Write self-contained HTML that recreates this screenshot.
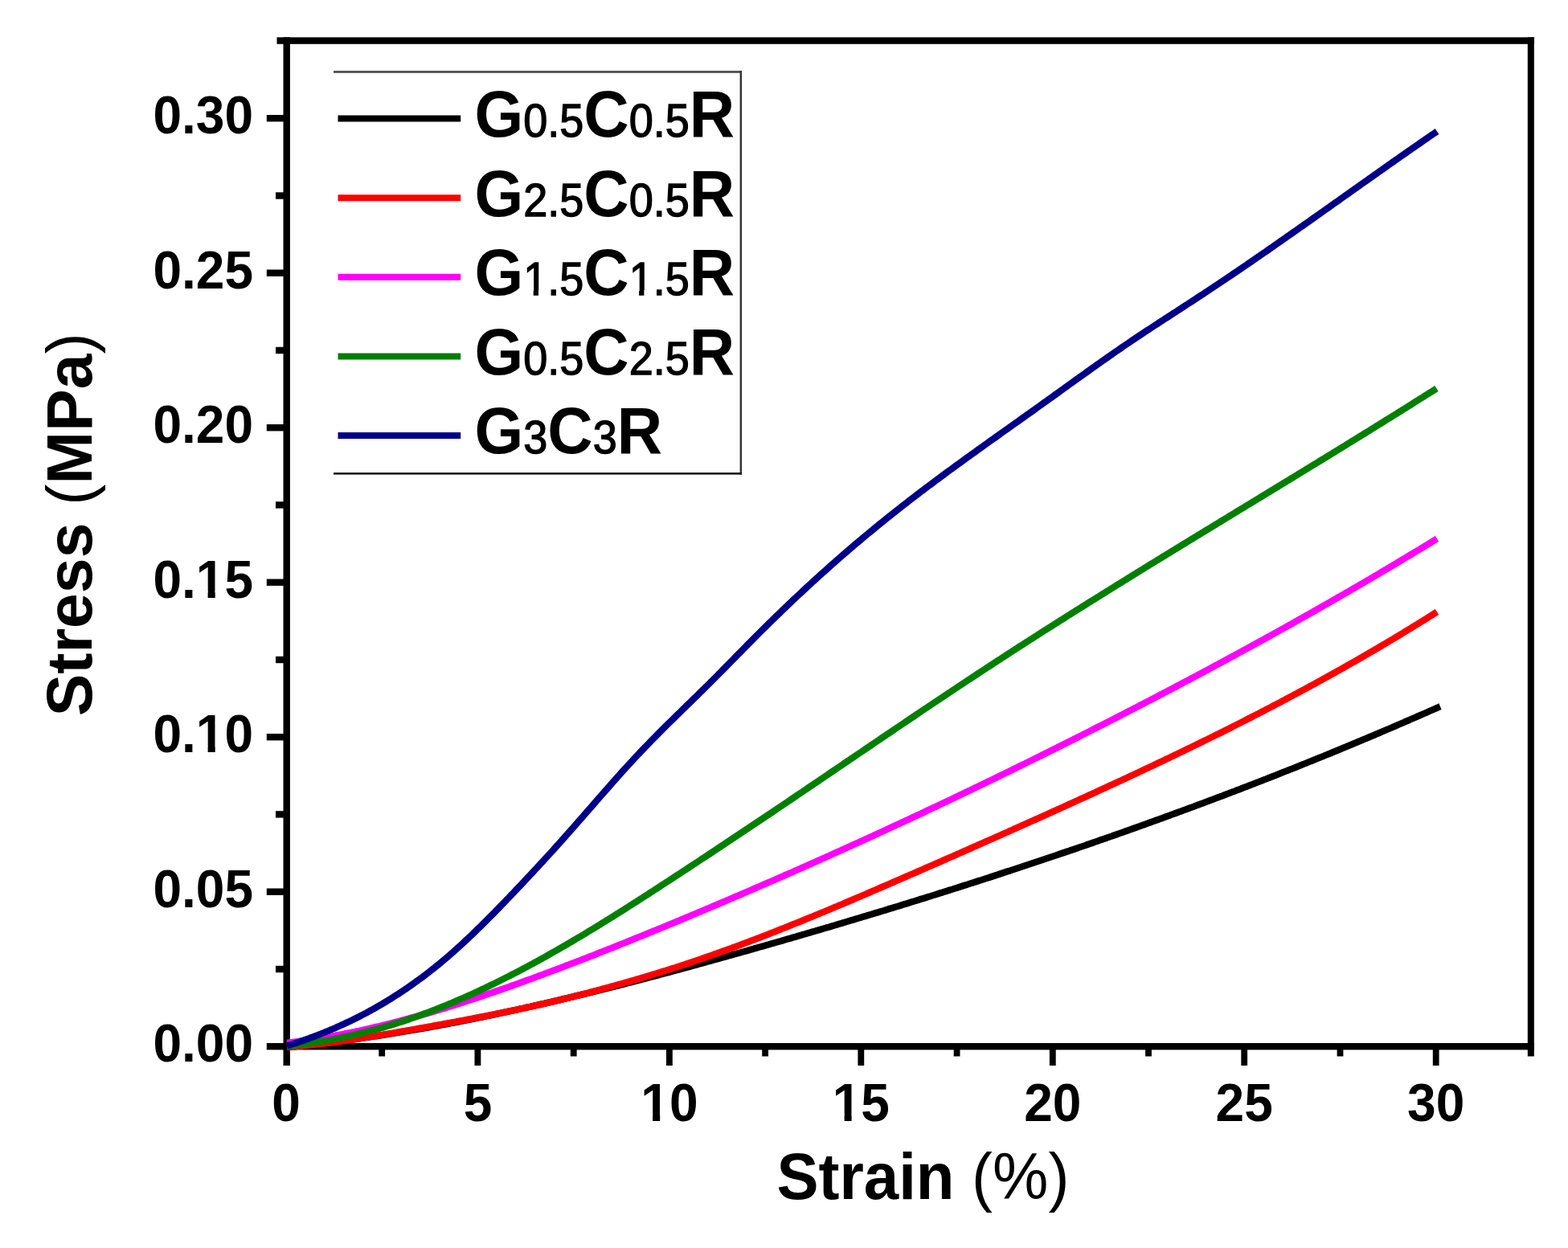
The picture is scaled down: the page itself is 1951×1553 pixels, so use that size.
<!DOCTYPE html>
<html><head><meta charset="utf-8"><title>Stress-Strain</title>
<style>html,body{margin:0;padding:0;background:#fff}body{width:1951px;height:1553px;overflow:hidden}svg{display:block}text{font-family:"Liberation Sans",Arial,sans-serif}</style></head>
<body>
<svg width="1951" height="1553" viewBox="0 0 1951 1553">
<rect x="0" y="0" width="1951" height="1553" fill="#fff"/>
<g fill="#000">
<rect x="344.5" y="46.4" width="1564.5" height="8.4"/>
<rect x="352.5" y="46.4" width="8.4" height="1279.6"/>
<rect x="1900.8" y="46.4" width="8.0" height="1268.1"/>
<rect x="352.5" y="1298.0" width="1556.5" height="8.4"/>
<rect x="331.8" y="1298.0" width="24.9" height="8.4"/>
<rect x="331.8" y="1105.5" width="24.9" height="8.4"/>
<rect x="331.8" y="913.0" width="24.9" height="8.4"/>
<rect x="331.8" y="720.5" width="24.9" height="8.4"/>
<rect x="331.8" y="528.0" width="24.9" height="8.4"/>
<rect x="331.8" y="335.5" width="24.9" height="8.4"/>
<rect x="331.8" y="143.0" width="24.9" height="8.4"/>
<rect x="343.0" y="1201.8" width="13.7" height="8.4"/>
<rect x="343.0" y="1009.2" width="13.7" height="8.4"/>
<rect x="343.0" y="816.8" width="13.7" height="8.4"/>
<rect x="343.0" y="624.2" width="13.7" height="8.4"/>
<rect x="343.0" y="431.8" width="13.7" height="8.4"/>
<rect x="343.0" y="239.3" width="13.7" height="8.4"/>
<rect x="590.5" y="1302.2" width="7.8" height="23.8"/>
<rect x="829.0" y="1302.2" width="7.8" height="23.8"/>
<rect x="1067.4" y="1302.2" width="7.8" height="23.8"/>
<rect x="1305.9" y="1302.2" width="7.8" height="23.8"/>
<rect x="1544.3" y="1302.2" width="7.8" height="23.8"/>
<rect x="1782.8" y="1302.2" width="7.8" height="23.8"/>
<rect x="471.3" y="1302.2" width="7.8" height="12.3"/>
<rect x="709.8" y="1302.2" width="7.8" height="12.3"/>
<rect x="948.2" y="1302.2" width="7.8" height="12.3"/>
<rect x="1186.7" y="1302.2" width="7.8" height="12.3"/>
<rect x="1425.1" y="1302.2" width="7.8" height="12.3"/>
<rect x="1663.6" y="1302.2" width="7.8" height="12.3"/>
</g>
<g fill="none" stroke-width="8.3" stroke-linejoin="round" stroke-linecap="butt">
<path stroke="#000000" d="M357.0 1303.2 L360.0 1302.9 L363.0 1302.6 L366.0 1302.3 L369.0 1301.9 L372.0 1301.6 L375.0 1301.3 L378.0 1301.0 L381.0 1300.7 L384.0 1300.3 L387.0 1300.0 L390.0 1299.7 L393.0 1299.3 L396.0 1299.0 L399.0 1298.6 L402.0 1298.2 L405.0 1297.9 L408.0 1297.5 L411.0 1297.1 L414.0 1296.8 L417.0 1296.4 L420.0 1296.0 L423.0 1295.6 L426.0 1295.2 L429.0 1294.8 L432.0 1294.4 L435.0 1294.0 L438.0 1293.6 L441.0 1293.2 L444.0 1292.8 L447.0 1292.3 L450.0 1291.9 L453.0 1291.5 L456.0 1291.0 L459.0 1290.6 L462.0 1290.2 L465.0 1289.7 L468.0 1289.3 L471.0 1288.8 L474.0 1288.3 L477.0 1287.9 L480.0 1287.4 L483.0 1286.9 L486.0 1286.4 L489.0 1286.0 L492.0 1285.5 L495.0 1285.0 L498.0 1284.5 L501.0 1284.0 L504.0 1283.5 L507.0 1283.0 L510.0 1282.5 L513.0 1282.0 L516.0 1281.5 L519.0 1280.9 L522.0 1280.4 L525.0 1279.9 L528.0 1279.4 L531.0 1278.8 L534.0 1278.3 L537.0 1277.7 L540.0 1277.2 L543.0 1276.7 L546.0 1276.1 L549.0 1275.5 L552.0 1275.0 L555.0 1274.4 L558.0 1273.9 L561.0 1273.3 L564.0 1272.7 L567.0 1272.1 L570.0 1271.6 L573.0 1271.0 L576.0 1270.4 L579.0 1269.8 L582.0 1269.2 L585.0 1268.6 L588.0 1268.0 L591.0 1267.4 L594.0 1266.8 L597.0 1266.2 L600.0 1265.6 L603.0 1265.0 L606.0 1264.3 L609.0 1263.7 L612.0 1263.1 L615.0 1262.5 L618.0 1261.8 L621.0 1261.2 L624.0 1260.5 L627.0 1259.9 L630.0 1259.3 L633.0 1258.6 L636.0 1258.0 L639.0 1257.3 L642.0 1256.7 L645.0 1256.0 L648.0 1255.3 L651.0 1254.7 L654.0 1254.0 L657.0 1253.3 L660.0 1252.7 L663.0 1252.0 L666.0 1251.3 L669.0 1250.6 L672.0 1249.9 L675.0 1249.2 L678.0 1248.6 L681.0 1247.9 L684.0 1247.2 L687.0 1246.5 L690.0 1245.8 L693.0 1245.1 L696.0 1244.4 L699.0 1243.6 L702.0 1242.9 L705.0 1242.2 L708.0 1241.5 L711.0 1240.8 L714.0 1240.1 L717.0 1239.3 L720.0 1238.6 L723.0 1237.9 L726.0 1237.2 L729.0 1236.4 L732.0 1235.7 L735.0 1234.9 L738.0 1234.2 L741.0 1233.5 L744.0 1232.7 L747.0 1232.0 L750.0 1231.2 L753.0 1230.5 L756.0 1229.7 L759.0 1229.0 L762.0 1228.2 L765.0 1227.4 L768.0 1226.7 L771.0 1225.9 L774.0 1225.1 L777.0 1224.4 L780.0 1223.6 L783.0 1222.8 L786.0 1222.1 L789.0 1221.3 L792.0 1220.5 L795.0 1219.7 L798.0 1218.9 L801.0 1218.1 L804.0 1217.4 L807.0 1216.6 L810.0 1215.8 L813.0 1215.0 L816.0 1214.2 L819.0 1213.4 L822.0 1212.6 L825.0 1211.8 L828.0 1211.0 L831.0 1210.2 L834.0 1209.4 L837.0 1208.6 L840.0 1207.8 L843.0 1207.0 L846.0 1206.2 L849.0 1205.3 L852.0 1204.5 L855.0 1203.7 L858.0 1202.9 L861.0 1202.1 L864.0 1201.3 L867.0 1200.4 L870.0 1199.6 L873.0 1198.8 L876.0 1198.0 L879.0 1197.1 L882.0 1196.3 L885.0 1195.5 L888.0 1194.6 L891.0 1193.8 L894.0 1193.0 L897.0 1192.1 L900.0 1191.3 L903.0 1190.5 L906.0 1189.6 L909.0 1188.8 L912.0 1187.9 L915.0 1187.1 L918.0 1186.2 L921.0 1185.4 L924.0 1184.6 L927.0 1183.7 L930.0 1182.9 L933.0 1182.0 L936.0 1181.2 L939.0 1180.3 L942.0 1179.4 L945.0 1178.6 L948.0 1177.7 L951.0 1176.9 L954.0 1176.0 L957.0 1175.2 L960.0 1174.3 L963.0 1173.4 L966.0 1172.6 L969.0 1171.7 L972.0 1170.9 L975.0 1170.0 L978.0 1169.1 L981.0 1168.3 L984.0 1167.4 L987.0 1166.5 L990.0 1165.7 L993.0 1164.8 L996.0 1163.9 L999.0 1163.0 L1002.0 1162.2 L1005.0 1161.3 L1008.0 1160.4 L1011.0 1159.5 L1014.0 1158.7 L1017.0 1157.8 L1020.0 1156.9 L1023.0 1156.0 L1026.0 1155.1 L1029.0 1154.2 L1032.0 1153.4 L1035.0 1152.5 L1038.0 1151.6 L1041.0 1150.7 L1044.0 1149.8 L1047.0 1148.9 L1050.0 1148.0 L1053.0 1147.1 L1056.0 1146.2 L1059.0 1145.3 L1062.0 1144.4 L1065.0 1143.5 L1068.0 1142.6 L1071.0 1141.7 L1074.0 1140.8 L1077.0 1139.9 L1080.0 1139.0 L1083.0 1138.1 L1086.0 1137.2 L1089.0 1136.3 L1092.0 1135.4 L1095.0 1134.5 L1098.0 1133.6 L1101.0 1132.7 L1104.0 1131.8 L1107.0 1130.8 L1110.0 1129.9 L1113.0 1129.0 L1116.0 1128.1 L1119.0 1127.2 L1122.0 1126.2 L1125.0 1125.3 L1128.0 1124.4 L1131.0 1123.5 L1134.0 1122.5 L1137.0 1121.6 L1140.0 1120.7 L1143.0 1119.8 L1146.0 1118.8 L1149.0 1117.9 L1152.0 1117.0 L1155.0 1116.0 L1158.0 1115.1 L1161.0 1114.1 L1164.0 1113.2 L1167.0 1112.3 L1170.0 1111.3 L1173.0 1110.4 L1176.0 1109.4 L1179.0 1108.5 L1182.0 1107.5 L1185.0 1106.6 L1188.0 1105.6 L1191.0 1104.7 L1194.0 1103.7 L1197.0 1102.8 L1200.0 1101.8 L1203.0 1100.9 L1206.0 1099.9 L1209.0 1098.9 L1212.0 1098.0 L1215.0 1097.0 L1218.0 1096.0 L1221.0 1095.1 L1224.0 1094.1 L1227.0 1093.1 L1230.0 1092.2 L1233.0 1091.2 L1236.0 1090.2 L1239.0 1089.2 L1242.0 1088.3 L1245.0 1087.3 L1248.0 1086.3 L1251.0 1085.3 L1254.0 1084.3 L1257.0 1083.4 L1260.0 1082.4 L1263.0 1081.4 L1266.0 1080.4 L1269.0 1079.4 L1272.0 1078.4 L1275.0 1077.4 L1278.0 1076.4 L1281.0 1075.4 L1284.0 1074.4 L1287.0 1073.4 L1290.0 1072.4 L1293.0 1071.4 L1296.0 1070.4 L1299.0 1069.4 L1302.0 1068.4 L1305.0 1067.4 L1308.0 1066.4 L1311.0 1065.4 L1314.0 1064.4 L1317.0 1063.3 L1320.0 1062.3 L1323.0 1061.3 L1326.0 1060.3 L1329.0 1059.3 L1332.0 1058.2 L1335.0 1057.2 L1338.0 1056.2 L1341.0 1055.2 L1344.0 1054.1 L1347.0 1053.1 L1350.0 1052.1 L1353.0 1051.0 L1356.0 1050.0 L1359.0 1049.0 L1362.0 1047.9 L1365.0 1046.9 L1368.0 1045.8 L1371.0 1044.8 L1374.0 1043.7 L1377.0 1042.7 L1380.0 1041.6 L1383.0 1040.6 L1386.0 1039.5 L1389.0 1038.5 L1392.0 1037.4 L1395.0 1036.4 L1398.0 1035.3 L1401.0 1034.2 L1404.0 1033.2 L1407.0 1032.1 L1410.0 1031.0 L1413.0 1030.0 L1416.0 1028.9 L1419.0 1027.8 L1422.0 1026.7 L1425.0 1025.7 L1428.0 1024.6 L1431.0 1023.5 L1434.0 1022.4 L1437.0 1021.3 L1440.0 1020.3 L1443.0 1019.2 L1446.0 1018.1 L1449.0 1017.0 L1452.0 1015.9 L1455.0 1014.8 L1458.0 1013.7 L1461.0 1012.6 L1464.0 1011.5 L1467.0 1010.4 L1470.0 1009.3 L1473.0 1008.2 L1476.0 1007.1 L1479.0 1006.0 L1482.0 1004.9 L1485.0 1003.8 L1488.0 1002.6 L1491.0 1001.5 L1494.0 1000.4 L1497.0 999.3 L1500.0 998.2 L1503.0 997.0 L1506.0 995.9 L1509.0 994.8 L1512.0 993.7 L1515.0 992.5 L1518.0 991.4 L1521.0 990.3 L1524.0 989.1 L1527.0 988.0 L1530.0 986.8 L1533.0 985.7 L1536.0 984.6 L1539.0 983.4 L1542.0 982.3 L1545.0 981.1 L1548.0 979.9 L1551.0 978.8 L1554.0 977.6 L1557.0 976.5 L1560.0 975.3 L1563.0 974.2 L1566.0 973.0 L1569.0 971.8 L1572.0 970.7 L1575.0 969.5 L1578.0 968.3 L1581.0 967.1 L1584.0 966.0 L1587.0 964.8 L1590.0 963.6 L1593.0 962.4 L1596.0 961.2 L1599.0 960.0 L1602.0 958.8 L1605.0 957.7 L1608.0 956.5 L1611.0 955.3 L1614.0 954.1 L1617.0 952.9 L1620.0 951.7 L1623.0 950.5 L1626.0 949.3 L1629.0 948.0 L1632.0 946.8 L1635.0 945.6 L1638.0 944.4 L1641.0 943.2 L1644.0 942.0 L1647.0 940.8 L1650.0 939.5 L1653.0 938.3 L1656.0 937.1 L1659.0 935.8 L1662.0 934.6 L1665.0 933.4 L1668.0 932.1 L1671.0 930.9 L1674.0 929.7 L1677.0 928.4 L1680.0 927.2 L1683.0 925.9 L1686.0 924.7 L1689.0 923.4 L1692.0 922.2 L1695.0 920.9 L1698.0 919.7 L1701.0 918.4 L1704.0 917.1 L1707.0 915.9 L1710.0 914.6 L1713.0 913.3 L1716.0 912.1 L1719.0 910.8 L1722.0 909.5 L1725.0 908.2 L1728.0 907.0 L1731.0 905.7 L1734.0 904.4 L1737.0 903.1 L1740.0 901.8 L1743.0 900.5 L1746.0 899.2 L1749.0 897.9 L1752.0 896.6 L1755.0 895.3 L1758.0 894.0 L1761.0 892.7 L1764.0 891.4 L1767.0 890.1 L1770.0 888.8 L1773.0 887.5 L1776.0 886.2 L1779.0 884.8 L1782.0 883.5 L1785.0 882.2 L1788.0 880.9 L1791.0 879.5 L1792.0 879.1"/>
<path stroke="#ff0000" d="M357.0 1302.8 L360.0 1302.6 L363.0 1302.4 L366.0 1302.2 L369.0 1302.0 L372.0 1301.7 L375.0 1301.5 L378.0 1301.2 L381.0 1300.9 L384.0 1300.7 L387.0 1300.4 L390.0 1300.0 L393.0 1299.7 L396.0 1299.4 L399.0 1299.0 L402.0 1298.7 L405.0 1298.3 L408.0 1297.9 L411.0 1297.6 L414.0 1297.2 L417.0 1296.8 L420.0 1296.4 L423.0 1296.0 L426.0 1295.5 L429.0 1295.1 L432.0 1294.7 L435.0 1294.2 L438.0 1293.8 L441.0 1293.3 L444.0 1292.9 L447.0 1292.4 L450.0 1291.9 L453.0 1291.4 L456.0 1291.0 L459.0 1290.5 L462.0 1290.0 L465.0 1289.5 L468.0 1289.0 L471.0 1288.5 L474.0 1288.0 L477.0 1287.5 L480.0 1287.0 L483.0 1286.5 L486.0 1286.0 L489.0 1285.5 L492.0 1285.0 L495.0 1284.4 L498.0 1283.9 L501.0 1283.4 L504.0 1282.9 L507.0 1282.3 L510.0 1281.8 L513.0 1281.3 L516.0 1280.8 L519.0 1280.2 L522.0 1279.7 L525.0 1279.2 L528.0 1278.6 L531.0 1278.1 L534.0 1277.5 L537.0 1277.0 L540.0 1276.4 L543.0 1275.9 L546.0 1275.3 L549.0 1274.8 L552.0 1274.2 L555.0 1273.7 L558.0 1273.1 L561.0 1272.6 L564.0 1272.0 L567.0 1271.5 L570.0 1270.9 L573.0 1270.3 L576.0 1269.8 L579.0 1269.2 L582.0 1268.6 L585.0 1268.1 L588.0 1267.5 L591.0 1266.9 L594.0 1266.3 L597.0 1265.7 L600.0 1265.2 L603.0 1264.6 L606.0 1264.0 L609.0 1263.4 L612.0 1262.8 L615.0 1262.2 L618.0 1261.6 L621.0 1261.0 L624.0 1260.4 L627.0 1259.8 L630.0 1259.1 L633.0 1258.5 L636.0 1257.9 L639.0 1257.3 L642.0 1256.6 L645.0 1256.0 L648.0 1255.4 L651.0 1254.7 L654.0 1254.1 L657.0 1253.4 L660.0 1252.8 L663.0 1252.1 L666.0 1251.4 L669.0 1250.8 L672.0 1250.1 L675.0 1249.4 L678.0 1248.7 L681.0 1248.0 L684.0 1247.3 L687.0 1246.6 L690.0 1245.9 L693.0 1245.2 L696.0 1244.5 L699.0 1243.7 L702.0 1243.0 L705.0 1242.3 L708.0 1241.5 L711.0 1240.8 L714.0 1240.0 L717.0 1239.3 L720.0 1238.5 L723.0 1237.7 L726.0 1237.0 L729.0 1236.2 L732.0 1235.4 L735.0 1234.6 L738.0 1233.8 L741.0 1233.0 L744.0 1232.2 L747.0 1231.4 L750.0 1230.6 L753.0 1229.8 L756.0 1229.0 L759.0 1228.1 L762.0 1227.3 L765.0 1226.5 L768.0 1225.6 L771.0 1224.8 L774.0 1224.0 L777.0 1223.1 L780.0 1222.3 L783.0 1221.4 L786.0 1220.5 L789.0 1219.7 L792.0 1218.8 L795.0 1217.9 L798.0 1217.0 L801.0 1216.1 L804.0 1215.2 L807.0 1214.3 L810.0 1213.4 L813.0 1212.5 L816.0 1211.6 L819.0 1210.7 L822.0 1209.8 L825.0 1208.8 L828.0 1207.9 L831.0 1206.9 L834.0 1206.0 L837.0 1205.0 L840.0 1204.1 L843.0 1203.1 L846.0 1202.1 L849.0 1201.1 L852.0 1200.2 L855.0 1199.2 L858.0 1198.2 L861.0 1197.2 L864.0 1196.1 L867.0 1195.1 L870.0 1194.1 L873.0 1193.1 L876.0 1192.0 L879.0 1191.0 L882.0 1189.9 L885.0 1188.9 L888.0 1187.8 L891.0 1186.8 L894.0 1185.7 L897.0 1184.6 L900.0 1183.5 L903.0 1182.5 L906.0 1181.4 L909.0 1180.3 L912.0 1179.2 L915.0 1178.1 L918.0 1177.0 L921.0 1175.8 L924.0 1174.7 L927.0 1173.6 L930.0 1172.5 L933.0 1171.3 L936.0 1170.2 L939.0 1169.1 L942.0 1167.9 L945.0 1166.8 L948.0 1165.6 L951.0 1164.5 L954.0 1163.3 L957.0 1162.1 L960.0 1160.9 L963.0 1159.8 L966.0 1158.6 L969.0 1157.4 L972.0 1156.2 L975.0 1155.0 L978.0 1153.8 L981.0 1152.6 L984.0 1151.4 L987.0 1150.2 L990.0 1149.0 L993.0 1147.8 L996.0 1146.6 L999.0 1145.4 L1002.0 1144.1 L1005.0 1142.9 L1008.0 1141.7 L1011.0 1140.5 L1014.0 1139.2 L1017.0 1138.0 L1020.0 1136.7 L1023.0 1135.5 L1026.0 1134.3 L1029.0 1133.0 L1032.0 1131.8 L1035.0 1130.5 L1038.0 1129.2 L1041.0 1128.0 L1044.0 1126.7 L1047.0 1125.5 L1050.0 1124.2 L1053.0 1122.9 L1056.0 1121.6 L1059.0 1120.4 L1062.0 1119.1 L1065.0 1117.8 L1068.0 1116.5 L1071.0 1115.3 L1074.0 1114.0 L1077.0 1112.7 L1080.0 1111.4 L1083.0 1110.1 L1086.0 1108.8 L1089.0 1107.5 L1092.0 1106.2 L1095.0 1104.9 L1098.0 1103.6 L1101.0 1102.3 L1104.0 1101.1 L1107.0 1099.8 L1110.0 1098.4 L1113.0 1097.1 L1116.0 1095.8 L1119.0 1094.5 L1122.0 1093.2 L1125.0 1091.9 L1128.0 1090.6 L1131.0 1089.3 L1134.0 1088.0 L1137.0 1086.7 L1140.0 1085.4 L1143.0 1084.1 L1146.0 1082.8 L1149.0 1081.5 L1152.0 1080.1 L1155.0 1078.8 L1158.0 1077.5 L1161.0 1076.2 L1164.0 1074.9 L1167.0 1073.6 L1170.0 1072.3 L1173.0 1070.9 L1176.0 1069.6 L1179.0 1068.3 L1182.0 1067.0 L1185.0 1065.7 L1188.0 1064.4 L1191.0 1063.0 L1194.0 1061.7 L1197.0 1060.4 L1200.0 1059.1 L1203.0 1057.8 L1206.0 1056.4 L1209.0 1055.1 L1212.0 1053.8 L1215.0 1052.5 L1218.0 1051.1 L1221.0 1049.8 L1224.0 1048.5 L1227.0 1047.1 L1230.0 1045.8 L1233.0 1044.5 L1236.0 1043.2 L1239.0 1041.8 L1242.0 1040.5 L1245.0 1039.2 L1248.0 1037.8 L1251.0 1036.5 L1254.0 1035.2 L1257.0 1033.8 L1260.0 1032.5 L1263.0 1031.1 L1266.0 1029.8 L1269.0 1028.5 L1272.0 1027.1 L1275.0 1025.8 L1278.0 1024.4 L1281.0 1023.1 L1284.0 1021.7 L1287.0 1020.4 L1290.0 1019.1 L1293.0 1017.7 L1296.0 1016.4 L1299.0 1015.0 L1302.0 1013.7 L1305.0 1012.3 L1308.0 1010.9 L1311.0 1009.6 L1314.0 1008.2 L1317.0 1006.9 L1320.0 1005.5 L1323.0 1004.2 L1326.0 1002.8 L1329.0 1001.4 L1332.0 1000.1 L1335.0 998.7 L1338.0 997.3 L1341.0 996.0 L1344.0 994.6 L1347.0 993.2 L1350.0 991.9 L1353.0 990.5 L1356.0 989.1 L1359.0 987.8 L1362.0 986.4 L1365.0 985.0 L1368.0 983.6 L1371.0 982.2 L1374.0 980.9 L1377.0 979.5 L1380.0 978.1 L1383.0 976.7 L1386.0 975.3 L1389.0 973.9 L1392.0 972.5 L1395.0 971.2 L1398.0 969.8 L1401.0 968.4 L1404.0 967.0 L1407.0 965.6 L1410.0 964.2 L1413.0 962.8 L1416.0 961.4 L1419.0 959.9 L1422.0 958.5 L1425.0 957.1 L1428.0 955.7 L1431.0 954.3 L1434.0 952.9 L1437.0 951.5 L1440.0 950.0 L1443.0 948.6 L1446.0 947.2 L1449.0 945.8 L1452.0 944.3 L1455.0 942.9 L1458.0 941.4 L1461.0 940.0 L1464.0 938.6 L1467.0 937.1 L1470.0 935.7 L1473.0 934.2 L1476.0 932.8 L1479.0 931.3 L1482.0 929.9 L1485.0 928.4 L1488.0 926.9 L1491.0 925.5 L1494.0 924.0 L1497.0 922.5 L1500.0 921.1 L1503.0 919.6 L1506.0 918.1 L1509.0 916.6 L1512.0 915.1 L1515.0 913.7 L1518.0 912.2 L1521.0 910.7 L1524.0 909.2 L1527.0 907.7 L1530.0 906.2 L1533.0 904.7 L1536.0 903.1 L1539.0 901.6 L1542.0 900.1 L1545.0 898.6 L1548.0 897.1 L1551.0 895.5 L1554.0 894.0 L1557.0 892.5 L1560.0 890.9 L1563.0 889.4 L1566.0 887.9 L1569.0 886.3 L1572.0 884.8 L1575.0 883.2 L1578.0 881.6 L1581.0 880.1 L1584.0 878.5 L1587.0 876.9 L1590.0 875.4 L1593.0 873.8 L1596.0 872.2 L1599.0 870.6 L1602.0 869.0 L1605.0 867.4 L1608.0 865.8 L1611.0 864.2 L1614.0 862.6 L1617.0 861.0 L1620.0 859.4 L1623.0 857.8 L1626.0 856.2 L1629.0 854.5 L1632.0 852.9 L1635.0 851.3 L1638.0 849.6 L1641.0 848.0 L1644.0 846.3 L1647.0 844.7 L1650.0 843.0 L1653.0 841.4 L1656.0 839.7 L1659.0 838.0 L1662.0 836.4 L1665.0 834.7 L1668.0 833.0 L1671.0 831.3 L1674.0 829.6 L1677.0 827.9 L1680.0 826.2 L1683.0 824.5 L1686.0 822.8 L1689.0 821.1 L1692.0 819.4 L1695.0 817.6 L1698.0 815.9 L1701.0 814.2 L1704.0 812.4 L1707.0 810.7 L1710.0 808.9 L1713.0 807.2 L1716.0 805.4 L1719.0 803.6 L1722.0 801.8 L1725.0 800.1 L1728.0 798.3 L1731.0 796.5 L1734.0 794.7 L1737.0 792.9 L1740.0 791.1 L1743.0 789.3 L1746.0 787.5 L1749.0 785.6 L1752.0 783.8 L1755.0 782.0 L1758.0 780.1 L1761.0 778.3 L1764.0 776.5 L1767.0 774.6 L1770.0 772.7 L1773.0 770.9 L1776.0 769.0 L1779.0 767.1 L1782.0 765.2 L1785.0 763.3 L1788.0 761.4"/>
<path stroke="#ff00ff" d="M357.0 1297.8 L360.0 1297.5 L363.0 1297.1 L366.0 1296.7 L369.0 1296.3 L372.0 1295.9 L375.0 1295.5 L378.0 1295.1 L381.0 1294.7 L384.0 1294.3 L387.0 1293.8 L390.0 1293.3 L393.0 1292.9 L396.0 1292.4 L399.0 1291.9 L402.0 1291.4 L405.0 1290.9 L408.0 1290.4 L411.0 1289.8 L414.0 1289.3 L417.0 1288.7 L420.0 1288.2 L423.0 1287.6 L426.0 1287.0 L429.0 1286.4 L432.0 1285.8 L435.0 1285.2 L438.0 1284.6 L441.0 1284.0 L444.0 1283.3 L447.0 1282.7 L450.0 1282.0 L453.0 1281.4 L456.0 1280.7 L459.0 1280.0 L462.0 1279.3 L465.0 1278.6 L468.0 1277.9 L471.0 1277.2 L474.0 1276.5 L477.0 1275.7 L480.0 1275.0 L483.0 1274.2 L486.0 1273.5 L489.0 1272.7 L492.0 1271.9 L495.0 1271.2 L498.0 1270.4 L501.0 1269.6 L504.0 1268.8 L507.0 1267.9 L510.0 1267.1 L513.0 1266.3 L516.0 1265.5 L519.0 1264.6 L522.0 1263.8 L525.0 1262.9 L528.0 1262.1 L531.0 1261.2 L534.0 1260.3 L537.0 1259.4 L540.0 1258.5 L543.0 1257.6 L546.0 1256.7 L549.0 1255.8 L552.0 1254.9 L555.0 1254.0 L558.0 1253.1 L561.0 1252.1 L564.0 1251.2 L567.0 1250.2 L570.0 1249.3 L573.0 1248.3 L576.0 1247.4 L579.0 1246.4 L582.0 1245.4 L585.0 1244.4 L588.0 1243.4 L591.0 1242.5 L594.0 1241.5 L597.0 1240.5 L600.0 1239.5 L603.0 1238.4 L606.0 1237.4 L609.0 1236.4 L612.0 1235.4 L615.0 1234.3 L618.0 1233.3 L621.0 1232.3 L624.0 1231.2 L627.0 1230.2 L630.0 1229.1 L633.0 1228.1 L636.0 1227.0 L639.0 1225.9 L642.0 1224.9 L645.0 1223.8 L648.0 1222.7 L651.0 1221.6 L654.0 1220.5 L657.0 1219.4 L660.0 1218.4 L663.0 1217.3 L666.0 1216.2 L669.0 1215.0 L672.0 1213.9 L675.0 1212.8 L678.0 1211.7 L681.0 1210.6 L684.0 1209.5 L687.0 1208.3 L690.0 1207.2 L693.0 1206.1 L696.0 1205.0 L699.0 1203.8 L702.0 1202.7 L705.0 1201.5 L708.0 1200.4 L711.0 1199.2 L714.0 1198.1 L717.0 1196.9 L720.0 1195.8 L723.0 1194.6 L726.0 1193.4 L729.0 1192.3 L732.0 1191.1 L735.0 1189.9 L738.0 1188.8 L741.0 1187.6 L744.0 1186.4 L747.0 1185.2 L750.0 1184.0 L753.0 1182.8 L756.0 1181.7 L759.0 1180.5 L762.0 1179.3 L765.0 1178.1 L768.0 1176.9 L771.0 1175.7 L774.0 1174.5 L777.0 1173.3 L780.0 1172.1 L783.0 1170.9 L786.0 1169.7 L789.0 1168.4 L792.0 1167.2 L795.0 1166.0 L798.0 1164.8 L801.0 1163.6 L804.0 1162.4 L807.0 1161.1 L810.0 1159.9 L813.0 1158.7 L816.0 1157.5 L819.0 1156.2 L822.0 1155.0 L825.0 1153.8 L828.0 1152.5 L831.0 1151.3 L834.0 1150.0 L837.0 1148.8 L840.0 1147.6 L843.0 1146.3 L846.0 1145.1 L849.0 1143.8 L852.0 1142.6 L855.0 1141.3 L858.0 1140.1 L861.0 1138.8 L864.0 1137.5 L867.0 1136.3 L870.0 1135.0 L873.0 1133.8 L876.0 1132.5 L879.0 1131.2 L882.0 1130.0 L885.0 1128.7 L888.0 1127.4 L891.0 1126.2 L894.0 1124.9 L897.0 1123.6 L900.0 1122.3 L903.0 1121.1 L906.0 1119.8 L909.0 1118.5 L912.0 1117.2 L915.0 1115.9 L918.0 1114.7 L921.0 1113.4 L924.0 1112.1 L927.0 1110.8 L930.0 1109.5 L933.0 1108.2 L936.0 1106.9 L939.0 1105.6 L942.0 1104.3 L945.0 1103.0 L948.0 1101.7 L951.0 1100.4 L954.0 1099.1 L957.0 1097.8 L960.0 1096.5 L963.0 1095.2 L966.0 1093.9 L969.0 1092.6 L972.0 1091.3 L975.0 1089.9 L978.0 1088.6 L981.0 1087.3 L984.0 1086.0 L987.0 1084.7 L990.0 1083.3 L993.0 1082.0 L996.0 1080.7 L999.0 1079.4 L1002.0 1078.0 L1005.0 1076.7 L1008.0 1075.4 L1011.0 1074.0 L1014.0 1072.7 L1017.0 1071.4 L1020.0 1070.0 L1023.0 1068.7 L1026.0 1067.4 L1029.0 1066.0 L1032.0 1064.7 L1035.0 1063.3 L1038.0 1062.0 L1041.0 1060.6 L1044.0 1059.3 L1047.0 1057.9 L1050.0 1056.6 L1053.0 1055.2 L1056.0 1053.8 L1059.0 1052.5 L1062.0 1051.1 L1065.0 1049.8 L1068.0 1048.4 L1071.0 1047.0 L1074.0 1045.7 L1077.0 1044.3 L1080.0 1042.9 L1083.0 1041.5 L1086.0 1040.2 L1089.0 1038.8 L1092.0 1037.4 L1095.0 1036.0 L1098.0 1034.7 L1101.0 1033.3 L1104.0 1031.9 L1107.0 1030.5 L1110.0 1029.1 L1113.0 1027.7 L1116.0 1026.3 L1119.0 1025.0 L1122.0 1023.6 L1125.0 1022.2 L1128.0 1020.8 L1131.0 1019.4 L1134.0 1018.0 L1137.0 1016.6 L1140.0 1015.2 L1143.0 1013.8 L1146.0 1012.4 L1149.0 1011.0 L1152.0 1009.5 L1155.0 1008.1 L1158.0 1006.7 L1161.0 1005.3 L1164.0 1003.9 L1167.0 1002.5 L1170.0 1001.1 L1173.0 999.6 L1176.0 998.2 L1179.0 996.8 L1182.0 995.4 L1185.0 993.9 L1188.0 992.5 L1191.0 991.1 L1194.0 989.6 L1197.0 988.2 L1200.0 986.8 L1203.0 985.3 L1206.0 983.9 L1209.0 982.5 L1212.0 981.0 L1215.0 979.6 L1218.0 978.1 L1221.0 976.7 L1224.0 975.2 L1227.0 973.8 L1230.0 972.3 L1233.0 970.9 L1236.0 969.4 L1239.0 968.0 L1242.0 966.5 L1245.0 965.0 L1248.0 963.6 L1251.0 962.1 L1254.0 960.7 L1257.0 959.2 L1260.0 957.7 L1263.0 956.2 L1266.0 954.8 L1269.0 953.3 L1272.0 951.8 L1275.0 950.4 L1278.0 948.9 L1281.0 947.4 L1284.0 945.9 L1287.0 944.4 L1290.0 942.9 L1293.0 941.5 L1296.0 940.0 L1299.0 938.5 L1302.0 937.0 L1305.0 935.5 L1308.0 934.0 L1311.0 932.5 L1314.0 931.0 L1317.0 929.5 L1320.0 928.0 L1323.0 926.5 L1326.0 925.0 L1329.0 923.5 L1332.0 922.0 L1335.0 920.5 L1338.0 919.0 L1341.0 917.5 L1344.0 915.9 L1347.0 914.4 L1350.0 912.9 L1353.0 911.4 L1356.0 909.9 L1359.0 908.3 L1362.0 906.8 L1365.0 905.3 L1368.0 903.8 L1371.0 902.2 L1374.0 900.7 L1377.0 899.2 L1380.0 897.6 L1383.0 896.1 L1386.0 894.6 L1389.0 893.0 L1392.0 891.5 L1395.0 889.9 L1398.0 888.4 L1401.0 886.8 L1404.0 885.3 L1407.0 883.8 L1410.0 882.2 L1413.0 880.6 L1416.0 879.1 L1419.0 877.5 L1422.0 876.0 L1425.0 874.4 L1428.0 872.9 L1431.0 871.3 L1434.0 869.7 L1437.0 868.2 L1440.0 866.6 L1443.0 865.0 L1446.0 863.5 L1449.0 861.9 L1452.0 860.3 L1455.0 858.7 L1458.0 857.2 L1461.0 855.6 L1464.0 854.0 L1467.0 852.4 L1470.0 850.8 L1473.0 849.2 L1476.0 847.6 L1479.0 846.1 L1482.0 844.5 L1485.0 842.9 L1488.0 841.3 L1491.0 839.7 L1494.0 838.1 L1497.0 836.5 L1500.0 834.9 L1503.0 833.3 L1506.0 831.7 L1509.0 830.0 L1512.0 828.4 L1515.0 826.8 L1518.0 825.2 L1521.0 823.6 L1524.0 822.0 L1527.0 820.4 L1530.0 818.7 L1533.0 817.1 L1536.0 815.5 L1539.0 813.8 L1542.0 812.2 L1545.0 810.6 L1548.0 808.9 L1551.0 807.3 L1554.0 805.7 L1557.0 804.0 L1560.0 802.4 L1563.0 800.7 L1566.0 799.1 L1569.0 797.4 L1572.0 795.8 L1575.0 794.1 L1578.0 792.5 L1581.0 790.8 L1584.0 789.2 L1587.0 787.5 L1590.0 785.8 L1593.0 784.2 L1596.0 782.5 L1599.0 780.8 L1602.0 779.1 L1605.0 777.5 L1608.0 775.8 L1611.0 774.1 L1614.0 772.4 L1617.0 770.7 L1620.0 769.0 L1623.0 767.4 L1626.0 765.7 L1629.0 764.0 L1632.0 762.3 L1635.0 760.6 L1638.0 758.9 L1641.0 757.2 L1644.0 755.4 L1647.0 753.7 L1650.0 752.0 L1653.0 750.3 L1656.0 748.6 L1659.0 746.9 L1662.0 745.1 L1665.0 743.4 L1668.0 741.7 L1671.0 740.0 L1674.0 738.2 L1677.0 736.5 L1680.0 734.8 L1683.0 733.0 L1686.0 731.3 L1689.0 729.5 L1692.0 727.8 L1695.0 726.0 L1698.0 724.3 L1701.0 722.5 L1704.0 720.8 L1707.0 719.0 L1710.0 717.2 L1713.0 715.5 L1716.0 713.7 L1719.0 711.9 L1722.0 710.1 L1725.0 708.4 L1728.0 706.6 L1731.0 704.8 L1734.0 703.0 L1737.0 701.2 L1740.0 699.4 L1743.0 697.6 L1746.0 695.8 L1749.0 694.0 L1752.0 692.2 L1755.0 690.4 L1758.0 688.6 L1761.0 686.8 L1764.0 685.0 L1767.0 683.2 L1770.0 681.4 L1773.0 679.5 L1776.0 677.7 L1779.0 675.9 L1782.0 674.0 L1785.0 672.2 L1788.0 670.4"/>
<path stroke="#008000" d="M357.0 1301.9 L360.0 1301.6 L363.0 1301.2 L366.0 1300.9 L369.0 1300.5 L372.0 1300.1 L375.0 1299.8 L378.0 1299.4 L381.0 1298.9 L384.0 1298.5 L387.0 1298.1 L390.0 1297.6 L393.0 1297.1 L396.0 1296.7 L399.0 1296.2 L402.0 1295.7 L405.0 1295.1 L408.0 1294.6 L411.0 1294.0 L414.0 1293.5 L417.0 1292.9 L420.0 1292.3 L423.0 1291.7 L426.0 1291.1 L429.0 1290.4 L432.0 1289.8 L435.0 1289.1 L438.0 1288.5 L441.0 1287.8 L444.0 1287.1 L447.0 1286.3 L450.0 1285.6 L453.0 1284.9 L456.0 1284.1 L459.0 1283.3 L462.0 1282.5 L465.0 1281.7 L468.0 1280.9 L471.0 1280.1 L474.0 1279.2 L477.0 1278.4 L480.0 1277.5 L483.0 1276.6 L486.0 1275.7 L489.0 1274.8 L492.0 1273.8 L495.0 1272.9 L498.0 1271.9 L501.0 1271.0 L504.0 1270.0 L507.0 1269.0 L510.0 1267.9 L513.0 1266.9 L516.0 1265.9 L519.0 1264.8 L522.0 1263.7 L525.0 1262.6 L528.0 1261.5 L531.0 1260.4 L534.0 1259.3 L537.0 1258.1 L540.0 1257.0 L543.0 1255.8 L546.0 1254.6 L549.0 1253.4 L552.0 1252.2 L555.0 1251.0 L558.0 1249.7 L561.0 1248.5 L564.0 1247.2 L567.0 1245.9 L570.0 1244.6 L573.0 1243.3 L576.0 1242.0 L579.0 1240.7 L582.0 1239.4 L585.0 1238.0 L588.0 1236.7 L591.0 1235.3 L594.0 1233.9 L597.0 1232.5 L600.0 1231.1 L603.0 1229.7 L606.0 1228.2 L609.0 1226.8 L612.0 1225.3 L615.0 1223.9 L618.0 1222.4 L621.0 1220.9 L624.0 1219.4 L627.0 1217.9 L630.0 1216.4 L633.0 1214.9 L636.0 1213.3 L639.0 1211.8 L642.0 1210.2 L645.0 1208.7 L648.0 1207.1 L651.0 1205.5 L654.0 1203.9 L657.0 1202.3 L660.0 1200.7 L663.0 1199.1 L666.0 1197.4 L669.0 1195.8 L672.0 1194.1 L675.0 1192.5 L678.0 1190.8 L681.0 1189.1 L684.0 1187.4 L687.0 1185.7 L690.0 1184.0 L693.0 1182.3 L696.0 1180.6 L699.0 1178.9 L702.0 1177.1 L705.0 1175.4 L708.0 1173.6 L711.0 1171.9 L714.0 1170.1 L717.0 1168.3 L720.0 1166.5 L723.0 1164.8 L726.0 1163.0 L729.0 1161.2 L732.0 1159.3 L735.0 1157.5 L738.0 1155.7 L741.0 1153.9 L744.0 1152.0 L747.0 1150.2 L750.0 1148.3 L753.0 1146.5 L756.0 1144.6 L759.0 1142.8 L762.0 1140.9 L765.0 1139.0 L768.0 1137.1 L771.0 1135.2 L774.0 1133.4 L777.0 1131.5 L780.0 1129.6 L783.0 1127.6 L786.0 1125.7 L789.0 1123.8 L792.0 1121.9 L795.0 1120.0 L798.0 1118.1 L801.0 1116.1 L804.0 1114.2 L807.0 1112.3 L810.0 1110.3 L813.0 1108.4 L816.0 1106.4 L819.0 1104.5 L822.0 1102.5 L825.0 1100.6 L828.0 1098.6 L831.0 1096.7 L834.0 1094.7 L837.0 1092.8 L840.0 1090.8 L843.0 1088.8 L846.0 1086.9 L849.0 1084.9 L852.0 1082.9 L855.0 1081.0 L858.0 1079.0 L861.0 1077.0 L864.0 1075.1 L867.0 1073.1 L870.0 1071.1 L873.0 1069.1 L876.0 1067.2 L879.0 1065.2 L882.0 1063.2 L885.0 1061.2 L888.0 1059.2 L891.0 1057.3 L894.0 1055.3 L897.0 1053.3 L900.0 1051.3 L903.0 1049.3 L906.0 1047.3 L909.0 1045.3 L912.0 1043.3 L915.0 1041.3 L918.0 1039.3 L921.0 1037.3 L924.0 1035.3 L927.0 1033.3 L930.0 1031.3 L933.0 1029.3 L936.0 1027.3 L939.0 1025.3 L942.0 1023.3 L945.0 1021.3 L948.0 1019.3 L951.0 1017.3 L954.0 1015.2 L957.0 1013.2 L960.0 1011.2 L963.0 1009.2 L966.0 1007.2 L969.0 1005.1 L972.0 1003.1 L975.0 1001.1 L978.0 999.1 L981.0 997.1 L984.0 995.0 L987.0 993.0 L990.0 991.0 L993.0 988.9 L996.0 986.9 L999.0 984.9 L1002.0 982.9 L1005.0 980.8 L1008.0 978.8 L1011.0 976.8 L1014.0 974.7 L1017.0 972.7 L1020.0 970.7 L1023.0 968.6 L1026.0 966.6 L1029.0 964.6 L1032.0 962.5 L1035.0 960.5 L1038.0 958.5 L1041.0 956.4 L1044.0 954.4 L1047.0 952.4 L1050.0 950.3 L1053.0 948.3 L1056.0 946.3 L1059.0 944.2 L1062.0 942.2 L1065.0 940.2 L1068.0 938.1 L1071.0 936.1 L1074.0 934.1 L1077.0 932.0 L1080.0 930.0 L1083.0 928.0 L1086.0 925.9 L1089.0 923.9 L1092.0 921.9 L1095.0 919.8 L1098.0 917.8 L1101.0 915.8 L1104.0 913.7 L1107.0 911.7 L1110.0 909.7 L1113.0 907.7 L1116.0 905.6 L1119.0 903.6 L1122.0 901.6 L1125.0 899.6 L1128.0 897.5 L1131.0 895.5 L1134.0 893.5 L1137.0 891.5 L1140.0 889.5 L1143.0 887.4 L1146.0 885.4 L1149.0 883.4 L1152.0 881.4 L1155.0 879.4 L1158.0 877.4 L1161.0 875.4 L1164.0 873.4 L1167.0 871.4 L1170.0 869.4 L1173.0 867.4 L1176.0 865.4 L1179.0 863.4 L1182.0 861.4 L1185.0 859.4 L1188.0 857.4 L1191.0 855.4 L1194.0 853.4 L1197.0 851.4 L1200.0 849.4 L1203.0 847.4 L1206.0 845.4 L1209.0 843.5 L1212.0 841.5 L1215.0 839.5 L1218.0 837.5 L1221.0 835.6 L1224.0 833.6 L1227.0 831.6 L1230.0 829.7 L1233.0 827.7 L1236.0 825.7 L1239.0 823.8 L1242.0 821.8 L1245.0 819.9 L1248.0 817.9 L1251.0 816.0 L1254.0 814.0 L1257.0 812.1 L1260.0 810.1 L1263.0 808.2 L1266.0 806.3 L1269.0 804.3 L1272.0 802.4 L1275.0 800.5 L1278.0 798.6 L1281.0 796.6 L1284.0 794.7 L1287.0 792.8 L1290.0 790.9 L1293.0 788.9 L1296.0 787.0 L1299.0 785.1 L1302.0 783.2 L1305.0 781.3 L1308.0 779.4 L1311.0 777.5 L1314.0 775.6 L1317.0 773.7 L1320.0 771.8 L1323.0 769.9 L1326.0 768.0 L1329.0 766.1 L1332.0 764.2 L1335.0 762.3 L1338.0 760.4 L1341.0 758.6 L1344.0 756.7 L1347.0 754.8 L1350.0 752.9 L1353.0 751.0 L1356.0 749.1 L1359.0 747.3 L1362.0 745.4 L1365.0 743.5 L1368.0 741.7 L1371.0 739.8 L1374.0 737.9 L1377.0 736.0 L1380.0 734.2 L1383.0 732.3 L1386.0 730.5 L1389.0 728.6 L1392.0 726.7 L1395.0 724.9 L1398.0 723.0 L1401.0 721.2 L1404.0 719.3 L1407.0 717.4 L1410.0 715.6 L1413.0 713.7 L1416.0 711.9 L1419.0 710.0 L1422.0 708.2 L1425.0 706.3 L1428.0 704.5 L1431.0 702.6 L1434.0 700.8 L1437.0 699.0 L1440.0 697.1 L1443.0 695.3 L1446.0 693.4 L1449.0 691.6 L1452.0 689.8 L1455.0 687.9 L1458.0 686.1 L1461.0 684.2 L1464.0 682.4 L1467.0 680.6 L1470.0 678.7 L1473.0 676.9 L1476.0 675.1 L1479.0 673.2 L1482.0 671.4 L1485.0 669.6 L1488.0 667.7 L1491.0 665.9 L1494.0 664.1 L1497.0 662.2 L1500.0 660.4 L1503.0 658.6 L1506.0 656.8 L1509.0 654.9 L1512.0 653.1 L1515.0 651.3 L1518.0 649.4 L1521.0 647.6 L1524.0 645.8 L1527.0 644.0 L1530.0 642.1 L1533.0 640.3 L1536.0 638.5 L1539.0 636.6 L1542.0 634.8 L1545.0 633.0 L1548.0 631.2 L1551.0 629.3 L1554.0 627.5 L1557.0 625.7 L1560.0 623.9 L1563.0 622.0 L1566.0 620.2 L1569.0 618.4 L1572.0 616.6 L1575.0 614.7 L1578.0 612.9 L1581.0 611.1 L1584.0 609.2 L1587.0 607.4 L1590.0 605.6 L1593.0 603.8 L1596.0 601.9 L1599.0 600.1 L1602.0 598.3 L1605.0 596.4 L1608.0 594.6 L1611.0 592.8 L1614.0 591.0 L1617.0 589.1 L1620.0 587.3 L1623.0 585.5 L1626.0 583.6 L1629.0 581.8 L1632.0 580.0 L1635.0 578.1 L1638.0 576.3 L1641.0 574.4 L1644.0 572.6 L1647.0 570.8 L1650.0 568.9 L1653.0 567.1 L1656.0 565.3 L1659.0 563.4 L1662.0 561.6 L1665.0 559.7 L1668.0 557.9 L1671.0 556.0 L1674.0 554.2 L1677.0 552.3 L1680.0 550.5 L1683.0 548.6 L1686.0 546.8 L1689.0 544.9 L1692.0 543.1 L1695.0 541.2 L1698.0 539.4 L1701.0 537.5 L1704.0 535.7 L1707.0 533.8 L1710.0 532.0 L1713.0 530.1 L1716.0 528.2 L1719.0 526.4 L1722.0 524.5 L1725.0 522.6 L1728.0 520.8 L1731.0 518.9 L1734.0 517.0 L1737.0 515.2 L1740.0 513.3 L1743.0 511.4 L1746.0 509.5 L1749.0 507.7 L1752.0 505.8 L1755.0 503.9 L1758.0 502.0 L1761.0 500.1 L1764.0 498.2 L1767.0 496.3 L1770.0 494.5 L1773.0 492.6 L1776.0 490.7 L1779.0 488.8 L1782.0 486.9 L1785.0 485.0 L1787.5 483.4"/>
<path stroke="#000088" d="M357.0 1301.5 L360.0 1300.5 L363.0 1299.5 L366.0 1298.6 L369.0 1297.6 L372.0 1296.6 L375.0 1295.5 L378.0 1294.5 L381.0 1293.4 L384.0 1292.3 L387.0 1291.2 L390.0 1290.1 L393.0 1289.0 L396.0 1287.8 L399.0 1286.7 L402.0 1285.5 L405.0 1284.2 L408.0 1283.0 L411.0 1281.7 L414.0 1280.5 L417.0 1279.2 L420.0 1277.8 L423.0 1276.5 L426.0 1275.1 L429.0 1273.8 L432.0 1272.3 L435.0 1270.9 L438.0 1269.5 L441.0 1268.0 L444.0 1266.5 L447.0 1265.0 L450.0 1263.4 L453.0 1261.9 L456.0 1260.3 L459.0 1258.6 L462.0 1257.0 L465.0 1255.3 L468.0 1253.6 L471.0 1251.9 L474.0 1250.2 L477.0 1248.4 L480.0 1246.6 L483.0 1244.8 L486.0 1242.9 L489.0 1241.0 L492.0 1239.1 L495.0 1237.2 L498.0 1235.2 L501.0 1233.3 L504.0 1231.2 L507.0 1229.2 L510.0 1227.1 L513.0 1225.0 L516.0 1222.9 L519.0 1220.7 L522.0 1218.5 L525.0 1216.3 L528.0 1214.1 L531.0 1211.8 L534.0 1209.5 L537.0 1207.1 L540.0 1204.7 L543.0 1202.3 L546.0 1199.9 L549.0 1197.4 L552.0 1194.9 L555.0 1192.4 L558.0 1189.8 L561.0 1187.2 L564.0 1184.6 L567.0 1181.9 L570.0 1179.2 L573.0 1176.5 L576.0 1173.7 L579.0 1170.9 L582.0 1168.1 L585.0 1165.3 L588.0 1162.4 L591.0 1159.5 L594.0 1156.6 L597.0 1153.7 L600.0 1150.7 L603.0 1147.8 L606.0 1144.8 L609.0 1141.7 L612.0 1138.7 L615.0 1135.7 L618.0 1132.6 L621.0 1129.5 L624.0 1126.4 L627.0 1123.3 L630.0 1120.2 L633.0 1117.1 L636.0 1113.9 L639.0 1110.8 L642.0 1107.6 L645.0 1104.4 L648.0 1101.3 L651.0 1098.1 L654.0 1094.9 L657.0 1091.7 L660.0 1088.5 L663.0 1085.3 L666.0 1082.0 L669.0 1078.8 L672.0 1075.5 L675.0 1072.3 L678.0 1069.0 L681.0 1065.7 L684.0 1062.5 L687.0 1059.2 L690.0 1055.9 L693.0 1052.5 L696.0 1049.2 L699.0 1045.9 L702.0 1042.5 L705.0 1039.1 L708.0 1035.7 L711.0 1032.3 L714.0 1028.9 L717.0 1025.5 L720.0 1022.1 L723.0 1018.7 L726.0 1015.2 L729.0 1011.8 L732.0 1008.3 L735.0 1004.9 L738.0 1001.5 L741.0 998.0 L744.0 994.6 L747.0 991.1 L750.0 987.7 L753.0 984.3 L756.0 980.9 L759.0 977.5 L762.0 974.1 L765.0 970.7 L768.0 967.3 L771.0 964.0 L774.0 960.6 L777.0 957.3 L780.0 954.0 L783.0 950.7 L786.0 947.5 L789.0 944.2 L792.0 941.0 L795.0 937.8 L798.0 934.6 L801.0 931.5 L804.0 928.4 L807.0 925.3 L810.0 922.2 L813.0 919.1 L816.0 916.1 L819.0 913.0 L822.0 910.0 L825.0 907.0 L828.0 904.0 L831.0 901.1 L834.0 898.1 L837.0 895.2 L840.0 892.2 L843.0 889.3 L846.0 886.4 L849.0 883.4 L852.0 880.5 L855.0 877.6 L858.0 874.7 L861.0 871.7 L864.0 868.8 L867.0 865.9 L870.0 862.9 L873.0 860.0 L876.0 857.1 L879.0 854.1 L882.0 851.1 L885.0 848.1 L888.0 845.1 L891.0 842.1 L894.0 839.1 L897.0 836.1 L900.0 833.0 L903.0 830.0 L906.0 826.9 L909.0 823.9 L912.0 820.8 L915.0 817.8 L918.0 814.7 L921.0 811.7 L924.0 808.6 L927.0 805.6 L930.0 802.5 L933.0 799.5 L936.0 796.5 L939.0 793.4 L942.0 790.4 L945.0 787.4 L948.0 784.4 L951.0 781.5 L954.0 778.5 L957.0 775.6 L960.0 772.6 L963.0 769.7 L966.0 766.8 L969.0 763.9 L972.0 761.0 L975.0 758.1 L978.0 755.2 L981.0 752.3 L984.0 749.5 L987.0 746.6 L990.0 743.8 L993.0 741.0 L996.0 738.2 L999.0 735.4 L1002.0 732.6 L1005.0 729.8 L1008.0 727.1 L1011.0 724.3 L1014.0 721.6 L1017.0 718.9 L1020.0 716.2 L1023.0 713.4 L1026.0 710.8 L1029.0 708.1 L1032.0 705.4 L1035.0 702.7 L1038.0 700.1 L1041.0 697.4 L1044.0 694.8 L1047.0 692.2 L1050.0 689.6 L1053.0 687.0 L1056.0 684.4 L1059.0 681.8 L1062.0 679.3 L1065.0 676.7 L1068.0 674.2 L1071.0 671.7 L1074.0 669.1 L1077.0 666.6 L1080.0 664.1 L1083.0 661.7 L1086.0 659.2 L1089.0 656.7 L1092.0 654.3 L1095.0 651.8 L1098.0 649.4 L1101.0 647.0 L1104.0 644.6 L1107.0 642.2 L1110.0 639.8 L1113.0 637.4 L1116.0 635.0 L1119.0 632.7 L1122.0 630.3 L1125.0 628.0 L1128.0 625.7 L1131.0 623.3 L1134.0 621.0 L1137.0 618.7 L1140.0 616.4 L1143.0 614.1 L1146.0 611.8 L1149.0 609.6 L1152.0 607.3 L1155.0 605.0 L1158.0 602.8 L1161.0 600.6 L1164.0 598.3 L1167.0 596.1 L1170.0 593.9 L1173.0 591.6 L1176.0 589.4 L1179.0 587.2 L1182.0 585.0 L1185.0 582.8 L1188.0 580.6 L1191.0 578.4 L1194.0 576.3 L1197.0 574.1 L1200.0 571.9 L1203.0 569.7 L1206.0 567.6 L1209.0 565.4 L1212.0 563.3 L1215.0 561.1 L1218.0 558.9 L1221.0 556.8 L1224.0 554.7 L1227.0 552.5 L1230.0 550.4 L1233.0 548.2 L1236.0 546.1 L1239.0 544.0 L1242.0 541.8 L1245.0 539.7 L1248.0 537.5 L1251.0 535.4 L1254.0 533.3 L1257.0 531.2 L1260.0 529.0 L1263.0 526.9 L1266.0 524.8 L1269.0 522.6 L1272.0 520.5 L1275.0 518.4 L1278.0 516.2 L1281.0 514.1 L1284.0 512.0 L1287.0 509.8 L1290.0 507.7 L1293.0 505.5 L1296.0 503.4 L1299.0 501.2 L1302.0 499.1 L1305.0 496.9 L1308.0 494.8 L1311.0 492.6 L1314.0 490.5 L1317.0 488.3 L1320.0 486.2 L1323.0 484.0 L1326.0 481.8 L1329.0 479.7 L1332.0 477.5 L1335.0 475.4 L1338.0 473.2 L1341.0 471.1 L1344.0 468.9 L1347.0 466.8 L1350.0 464.6 L1353.0 462.5 L1356.0 460.3 L1359.0 458.2 L1362.0 456.1 L1365.0 453.9 L1368.0 451.8 L1371.0 449.7 L1374.0 447.6 L1377.0 445.5 L1380.0 443.4 L1383.0 441.3 L1386.0 439.2 L1389.0 437.1 L1392.0 435.1 L1395.0 433.0 L1398.0 430.9 L1401.0 428.9 L1404.0 426.9 L1407.0 424.8 L1410.0 422.8 L1413.0 420.8 L1416.0 418.8 L1419.0 416.8 L1422.0 414.8 L1425.0 412.8 L1428.0 410.8 L1431.0 408.9 L1434.0 406.9 L1437.0 404.9 L1440.0 403.0 L1443.0 401.0 L1446.0 399.1 L1449.0 397.1 L1452.0 395.2 L1455.0 393.2 L1458.0 391.3 L1461.0 389.3 L1464.0 387.4 L1467.0 385.4 L1470.0 383.5 L1473.0 381.5 L1476.0 379.6 L1479.0 377.6 L1482.0 375.7 L1485.0 373.7 L1488.0 371.8 L1491.0 369.8 L1494.0 367.8 L1497.0 365.9 L1500.0 363.9 L1503.0 361.9 L1506.0 359.9 L1509.0 357.9 L1512.0 355.9 L1515.0 353.9 L1518.0 351.9 L1521.0 349.9 L1524.0 347.9 L1527.0 345.9 L1530.0 343.9 L1533.0 341.8 L1536.0 339.8 L1539.0 337.8 L1542.0 335.7 L1545.0 333.7 L1548.0 331.6 L1551.0 329.6 L1554.0 327.5 L1557.0 325.5 L1560.0 323.4 L1563.0 321.3 L1566.0 319.3 L1569.0 317.2 L1572.0 315.1 L1575.0 313.1 L1578.0 311.0 L1581.0 308.9 L1584.0 306.8 L1587.0 304.7 L1590.0 302.6 L1593.0 300.5 L1596.0 298.4 L1599.0 296.3 L1602.0 294.2 L1605.0 292.1 L1608.0 290.0 L1611.0 287.9 L1614.0 285.8 L1617.0 283.7 L1620.0 281.6 L1623.0 279.5 L1626.0 277.4 L1629.0 275.3 L1632.0 273.1 L1635.0 271.0 L1638.0 268.9 L1641.0 266.8 L1644.0 264.7 L1647.0 262.5 L1650.0 260.4 L1653.0 258.3 L1656.0 256.2 L1659.0 254.0 L1662.0 251.9 L1665.0 249.8 L1668.0 247.7 L1671.0 245.5 L1674.0 243.4 L1677.0 241.3 L1680.0 239.2 L1683.0 237.0 L1686.0 234.9 L1689.0 232.8 L1692.0 230.7 L1695.0 228.5 L1698.0 226.4 L1701.0 224.3 L1704.0 222.2 L1707.0 220.1 L1710.0 217.9 L1713.0 215.8 L1716.0 213.7 L1719.0 211.6 L1722.0 209.5 L1725.0 207.4 L1728.0 205.2 L1731.0 203.1 L1734.0 201.0 L1737.0 198.9 L1740.0 196.8 L1743.0 194.7 L1746.0 192.6 L1749.0 190.5 L1752.0 188.4 L1755.0 186.3 L1758.0 184.2 L1761.0 182.2 L1764.0 180.1 L1767.0 178.0 L1770.0 175.9 L1773.0 173.8 L1776.0 171.8 L1779.0 169.7 L1782.0 167.6 L1785.0 165.6 L1788.0 163.5"/>
</g>
<g font-weight="bold" font-size="64" fill="#000">
<text transform="translate(315 1321.4) scale(1 1.05)" text-anchor="end">0.00</text>
<text transform="translate(315 1128.9) scale(1 1.05)" text-anchor="end">0.05</text>
<text transform="translate(315 936.4) scale(1 1.05)" text-anchor="end">0.10</text>
<text transform="translate(315 743.9) scale(1 1.05)" text-anchor="end">0.15</text>
<text transform="translate(315 551.4) scale(1 1.05)" text-anchor="end">0.20</text>
<text transform="translate(315 358.9) scale(1 1.05)" text-anchor="end">0.25</text>
<text transform="translate(315 166.4) scale(1 1.05)" text-anchor="end">0.30</text>
<text transform="translate(356.0 1395) scale(1 1.05)" text-anchor="middle">0</text>
<text transform="translate(594.5 1395) scale(1 1.05)" text-anchor="middle">5</text>
<text transform="translate(832.9 1395) scale(1 1.05)" text-anchor="middle">10</text>
<text transform="translate(1071.3 1395) scale(1 1.05)" text-anchor="middle">15</text>
<text transform="translate(1309.8 1395) scale(1 1.05)" text-anchor="middle">20</text>
<text transform="translate(1548.2 1395) scale(1 1.05)" text-anchor="middle">25</text>
<text transform="translate(1786.7 1395) scale(1 1.05)" text-anchor="middle">30</text>
</g>
<text font-weight="bold" font-size="78" transform="translate(1148.4 1492) scale(1 1.04)" text-anchor="middle">Strain <tspan font-weight="normal">(%)</tspan></text>
<text font-weight="bold" font-size="78" transform="translate(113.5 652.8) rotate(-90) scale(1.01 1.03)" text-anchor="middle">Stress <tspan font-weight="normal">(</tspan>MPa<tspan font-weight="normal">)</tspan></text>
<rect x="415" y="88" width="507" height="2.9" fill="#555"/>
<rect x="920.6" y="88" width="2.5" height="502.6" fill="#333"/>
<rect x="415" y="588" width="508" height="2.6" fill="#1a1a1a"/>
<line x1="420.5" y1="147.6" x2="573.2" y2="147.6" stroke="#000000" stroke-width="8"/>
<text transform="translate(590.6 170.0) scale(1 1.05)" font-size="78" font-weight="bold">G<tspan font-size="54" font-weight="normal" stroke="#000" stroke-width="1.3">0.5</tspan>C<tspan font-size="54" font-weight="normal" stroke="#000" stroke-width="1.3">0.5</tspan>R</text>
<line x1="420.5" y1="246.2" x2="573.2" y2="246.2" stroke="#ff0000" stroke-width="8"/>
<text transform="translate(590.6 268.6) scale(1 1.05)" font-size="78" font-weight="bold">G<tspan font-size="54" font-weight="normal" stroke="#000" stroke-width="1.3">2.5</tspan>C<tspan font-size="54" font-weight="normal" stroke="#000" stroke-width="1.3">0.5</tspan>R</text>
<line x1="420.5" y1="344.8" x2="573.2" y2="344.8" stroke="#ff00ff" stroke-width="8"/>
<text transform="translate(590.6 367.2) scale(1 1.05)" font-size="78" font-weight="bold">G<tspan font-size="54" font-weight="normal" stroke="#000" stroke-width="1.3">1.5</tspan>C<tspan font-size="54" font-weight="normal" stroke="#000" stroke-width="1.3">1.5</tspan>R</text>
<line x1="420.5" y1="443.4" x2="573.2" y2="443.4" stroke="#008000" stroke-width="8"/>
<text transform="translate(590.6 465.8) scale(1 1.05)" font-size="78" font-weight="bold">G<tspan font-size="54" font-weight="normal" stroke="#000" stroke-width="1.3">0.5</tspan>C<tspan font-size="54" font-weight="normal" stroke="#000" stroke-width="1.3">2.5</tspan>R</text>
<line x1="420.5" y1="542.0" x2="573.2" y2="542.0" stroke="#000088" stroke-width="8"/>
<text transform="translate(590.6 564.4) scale(1 1.05)" font-size="78" font-weight="bold">G<tspan font-size="54" font-weight="normal" stroke="#000" stroke-width="1.3">3</tspan>C<tspan font-size="54" font-weight="normal" stroke="#000" stroke-width="1.3">3</tspan>R</text>
<g fill="#fff"><rect x="247.0" y="928.2" width="11.6" height="9.8"/><rect x="267.7" y="928.2" width="11.0" height="9.8"/><rect x="247.0" y="735.7" width="11.6" height="9.8"/><rect x="267.7" y="735.7" width="11.0" height="9.8"/><rect x="800.5" y="1386.8" width="11.6" height="9.8"/><rect x="821.2" y="1386.8" width="11.0" height="9.8"/><rect x="1039.0" y="1386.8" width="11.6" height="9.8"/><rect x="1059.6" y="1386.8" width="11.0" height="9.8"/><rect x="653.4" y="361.0" width="10.3" height="7.8"/><rect x="670.0" y="361.0" width="10.5" height="7.8"/><rect x="784.8" y="361.0" width="10.3" height="7.8"/><rect x="801.4" y="361.0" width="10.5" height="7.8"/></g>
</svg>
</body></html>
